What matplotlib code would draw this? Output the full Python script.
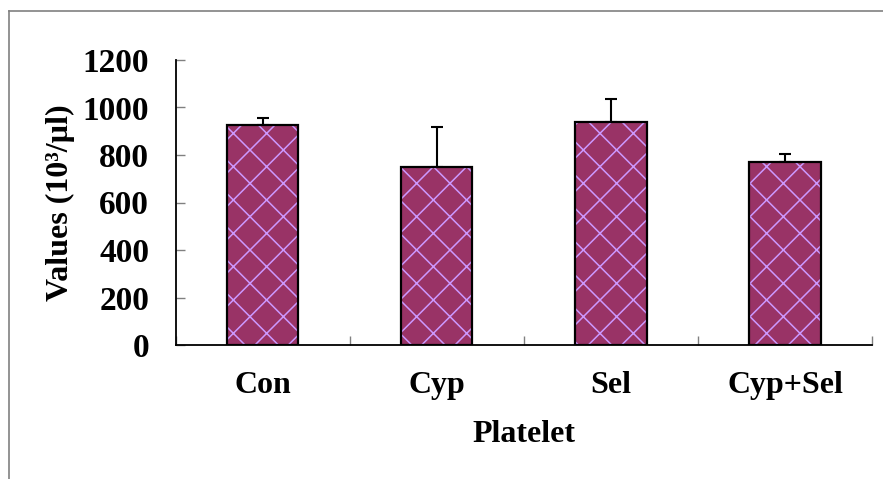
import matplotlib
matplotlib.use("Agg")
import matplotlib.pyplot as plt
from matplotlib.lines import Line2D
import numpy as np

categories = ["Con", "Cyp", "Sel", "Cyp+Sel"]
values = [925, 748, 940, 772]
errors = [31, 170, 96, 32]
ytick_values = [0, 200, 400, 600, 800, 1000, 1200]

plt.rcParams['font.family'] = ['Liberation Serif', 'DejaVu Serif']
plt.rcParams['font.weight'] = 'bold'
plt.rcParams['hatch.linewidth'] = 1.1

W, H = 883, 479
fig = plt.figure(figsize=(W / 100, H / 100), dpi=100)
ax = fig.add_axes([175.5 / W, 1 - 345 / H, (872 - 175.5) / W, (345 - 60) / H])

x = np.arange(len(categories))
width = 0.41
# fill + hatch
ax.bar(x, values, width, color='#993366', edgecolor='#CC99FF', hatch='x', linewidth=0, zorder=2)
# outline
ax.bar(x, values, width, fill=False, edgecolor='black', linewidth=1.6, zorder=3)
ax.errorbar(x, values, yerr=[np.zeros(len(errors)), errors], fmt='none',
            ecolor='black', elinewidth=1.5, capsize=4, capthick=1.5, zorder=1)

ax.set_xlim(-0.5, len(categories) - 0.5)
ax.set_ylim(0, 1200)
ax.set_yticks(ytick_values)
ax.set_yticklabels([str(v) for v in ytick_values], fontsize=24, fontweight='bold')
ax.tick_params(axis='y', direction='in', length=6.5, width=1, color='#808080', pad=19)

ax.set_xticks(x)
ax.set_xticklabels(categories, fontsize=23, fontweight='bold')
ax.tick_params(axis='x', which='major', length=0, pad=19)
ax.set_xticks(np.arange(len(categories) + 1) - 0.5, minor=True)
ax.tick_params(axis='x', which='minor', direction='in', length=6.5, width=1, color='#808080')

for s in ['top', 'right']:
    ax.spines[s].set_visible(False)
for s in ['left', 'bottom']:
    ax.spines[s].set_linewidth(1.3)
    ax.spines[s].set_color('black')

ax.set_ylabel("Values (10³/µl)", fontsize=23, fontweight='bold', va='center')
ax.yaxis.set_label_coords((60 - 175.5) / (872 - 175.5), 0.5)
ax.set_xlabel("Platelet", fontsize=23, fontweight='bold', va='center')
ax.xaxis.set_label_coords(0.5, (345 - 435) / (345 - 60))

# outer frame (partially visible)
fig.add_artist(Line2D([9 / W, 1], [1 - 11 / H, 1 - 11 / H], transform=fig.transFigure,
                      color='#808080', linewidth=1.2))
fig.add_artist(Line2D([9 / W, 9 / W], [0, 1 - 11 / H], transform=fig.transFigure,
                      color='#808080', linewidth=1.2))

fig.savefig("out.png", dpi=100)
